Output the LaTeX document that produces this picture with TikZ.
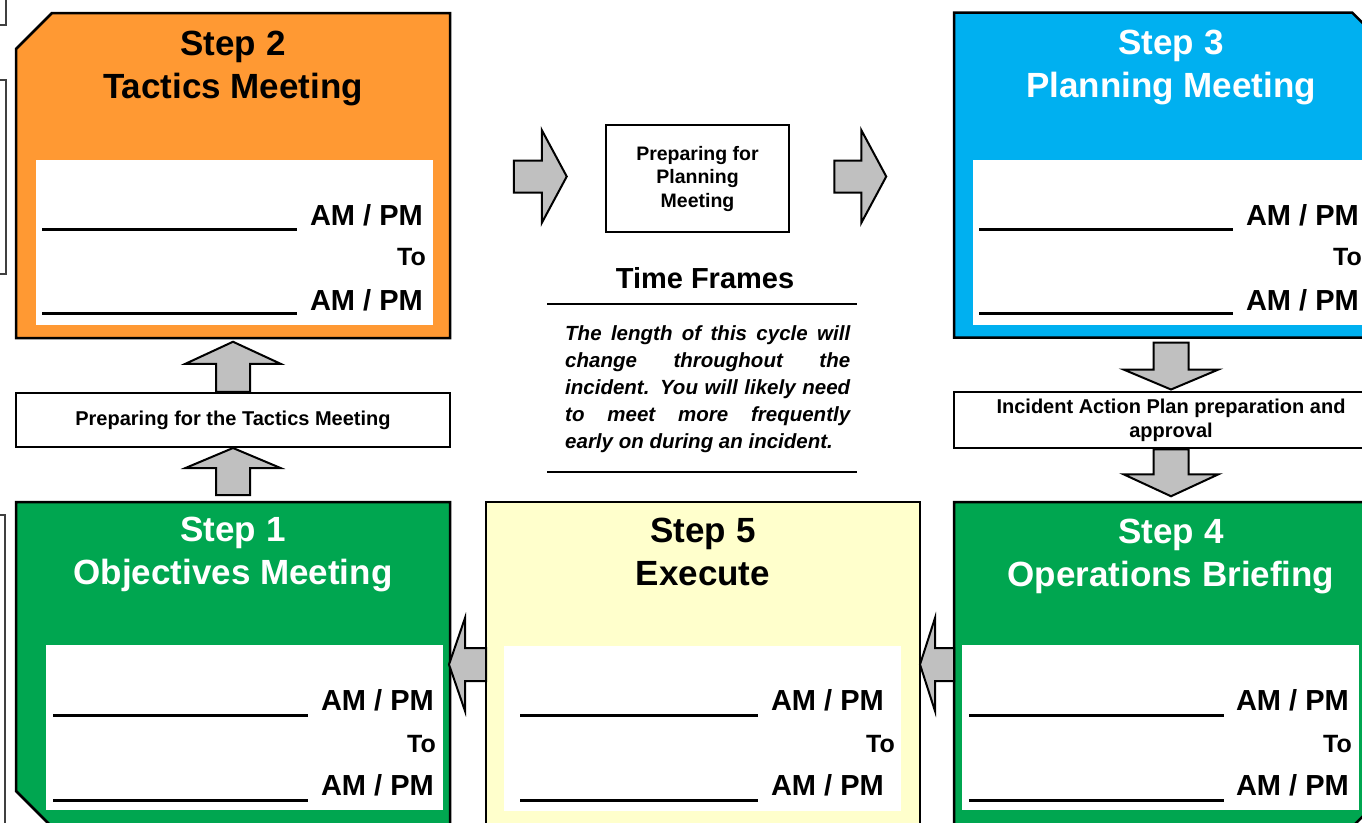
\documentclass[tikz,border=0pt]{standalone}
\usepackage{fontspec}
\setmainfont{Liberation Sans}
\usetikzlibrary{positioning}
\definecolor{tacticorange}{HTML}{FF9933}
\definecolor{planblue}{HTML}{00B0F0}
\definecolor{stepgreen}{HTML}{00A650}
\definecolor{executeyellow}{HTML}{FFFFCC}
\definecolor{arrowgray}{HTML}{C0C0C0}
\begin{document}
\begin{tikzpicture}[x=1pt,y=-1pt,
	stepbox/.style={minimum width=434pt,minimum height=325pt,inner sep=0pt,outer sep=0pt},
	boxline/.style={draw,line width=2.5pt,line join=miter},
	panel/.style={fill=white,minimum width=397pt,minimum height=165pt,inner sep=0pt},
	title/.style={anchor=north,inner sep=0pt,align=center,font=\fontsize{35}{43}\selectfont\bfseries},
	ampm/.style={anchor=base east,inner sep=0pt,font=\fontsize{29}{34}\selectfont\bfseries},
	tonote/.style={anchor=base east,inner sep=0pt,font=\fontsize{25}{29}\selectfont\bfseries},
	blank/.style={line width=3pt},
	notebox/.style={draw,line width=2.5pt,fill=white,inner sep=0pt,align=center,font=\fontsize{20}{24}\selectfont\bfseries},
	arrowline/.style={draw,fill=arrowgray,line width=2pt,line join=miter},
	pics/blockarrow/.style n args={4}{code={
		\path[arrowline] (0,#3) -- ({#1-#2},#3) -- ({#1-#2},#4) -- (#1,0) -- ({#1-#2},-#4) -- ({#1-#2},-#3) -- (0,-#3) -- cycle;}}]
	\useasboundingbox (0,0) rectangle (1362,822);
	\clip (0,0) rectangle (1362,822);
	\draw [line width=1.2pt,black!75] (-5,25) -- (6,25) -- (6,-5);
	\draw [line width=1.2pt,black!75] (-5,80) -- (6,80) -- (6,274) -- (-5,274);
	\draw [line width=1.2pt,black!75] (-5,515) -- (5,515) -- (5,830);
	\node[stepbox] (s2) at (233,175.5) {};
	\node[stepbox] (s3) at (1171,175) {};
	\node[stepbox] (s1) at (233,664.5) {};
	\node[stepbox] (s5) at (703,664.5) {};
	\node[stepbox] (s4) at (1171,664.5) {};
	\draw[boxline,fill=tacticorange] ([yshift=-36pt]s2.north west) -- ([xshift=36pt]s2.north west) -- (s2.north east) -- (s2.south east) -- (s2.south west) -- cycle;
	\draw[boxline,fill=planblue] (s3.north west) -- ([xshift=-36pt]s3.north east) -- ([yshift=-36pt]s3.north east) -- (s3.south east) -- (s3.south west) -- cycle;
	\draw[boxline,fill=stepgreen] (s1.north west) -- (s1.north east) -- (s1.south east) -- ([xshift=36pt]s1.south west) -- ([yshift=36pt]s1.south west) -- cycle;
	\draw[boxline,fill=executeyellow] (s5.north west) rectangle (s5.south east);
	\draw[boxline,fill=stepgreen] (s4.north west) -- (s4.north east) -- ([yshift=36pt]s4.south east) -- ([xshift=-36pt]s4.south east) -- (s4.south west) -- cycle;
	\node[title,below=18pt of s2.north] {Step 2\\Tactics Meeting};
	\node[title,text=white,below=17pt of s3.north] {Step 3\\Planning Meeting};
	\node[title,text=white,below=15pt of s1.north] {Step 1\\Objectives Meeting};
	\node[title,below=16pt of s5.north] {Step 5\\Execute};
	\node[title,text=white,below=17pt of s4.north] {Step 4\\Operations Briefing};
	\node[panel] (p2) at (234,242.5) {};
	\node[panel] (p3) at (1171,242.5) {};
	\node[panel] (p1) at (244.5,727.5) {};
	\node[panel] (p5) at (702.5,728) {};
	\node[panel] (p4) at (1160,727.5) {};
	\draw[blank] (42,229) -- (297,229);
	\draw[blank] (42,313) -- (297,313);
	\node[ampm] at (423,225) {AM / PM};
	\node[tonote] at (426,265) {To};
	\node[ampm] at (423,310) {AM / PM};
	\draw[blank] (979,229) -- (1233,229);
	\draw[blank] (979,313) -- (1233,313);
	\node[ampm] at (1359,225) {AM / PM};
	\node[tonote] at (1362,265) {To};
	\node[ampm] at (1359,310) {AM / PM};
	\draw[blank] (53,715) -- (308,715);
	\draw[blank] (53,800) -- (308,800);
	\node[ampm] at (434,710) {AM / PM};
	\node[tonote] at (436,752) {To};
	\node[ampm] at (434,795) {AM / PM};
	\draw[blank] (520,715) -- (758,715);
	\draw[blank] (520,800) -- (758,800);
	\node[ampm] at (884,710) {AM / PM};
	\node[tonote] at (895,752) {To};
	\node[ampm] at (884,795) {AM / PM};
	\draw[blank] (969,715) -- (1224,715);
	\draw[blank] (969,800) -- (1224,800);
	\node[ampm] at (1349,710) {AM / PM};
	\node[tonote] at (1352,752) {To};
	\node[ampm] at (1349,795) {AM / PM};
	\node[notebox,minimum width=434pt,minimum height=54pt] (prepT) at (233,420) {Preparing for the Tactics Meeting};
	\node[notebox,minimum width=434pt,minimum height=56pt] (iap) at (1171,420) {Incident Action Plan preparation and\\approval};
	\node[notebox,minimum width=183pt,minimum height=107pt,font=\fontsize{19.5}{23.5}\selectfont\bfseries] (prepP) at (697.5,178.5) {Preparing for\\Planning\\Meeting};
	\node[font=\fontsize{29}{34}\selectfont\bfseries] (frames) at (705,278) {Time Frames};
	\draw[line width=2pt] (547,304) -- (857,304);
	\node[text width=285pt,align=justify,anchor=north west,inner sep=0pt,font=\fontsize{20.5}{27}\selectfont\bfseries\itshape] (cycle) at (565,325) {The length of this cycle will\linebreak change throughout the\linebreak incident. You will likely need\linebreak to meet more frequently\linebreak early on during an incident.};
	\draw[line width=2pt] (547,472) -- (857,472);
	\pic[rotate=90] at (prepT.north) {blockarrow={50}{22}{17}{47.5}};
	\pic[rotate=90] at ([yshift=7pt]s1.north) {blockarrow={47}{20}{17}{47.5}};
	\pic[rotate=-90] at ([yshift=-5pt]s3.south) {blockarrow={47}{20}{17.5}{47.5}};
	\pic[rotate=-90] at (iap.south) {blockarrow={47}{22}{17.5}{47.5}};
	\pic at ([xshift=-91pt,yshift=2pt]prepP.west) {blockarrow={53}{25}{16}{46.5}};
	\pic at ([xshift=44pt,yshift=2pt]prepP.east) {blockarrow={52}{25}{16}{46.5}};
	\pic[rotate=180] at (s5.west) {blockarrow={37}{16}{16.5}{46.5}};
	\pic[rotate=180] at (s4.west) {blockarrow={34}{15}{16.5}{46.5}};
\end{tikzpicture}
\end{document}
